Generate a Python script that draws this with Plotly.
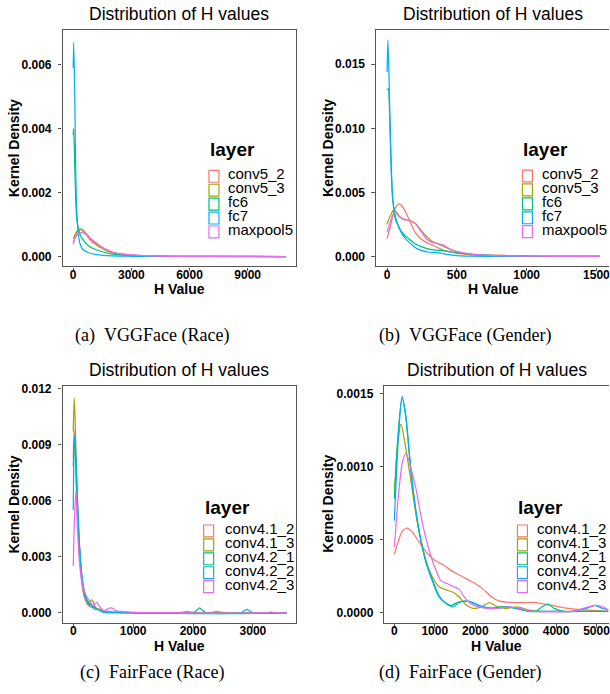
import plotly.graph_objects as go

W, H = 610, 694

# ---------------- data ----------------
layers_vgg = ["conv5_2", "conv5_3", "fc6", "fc7", "maxpool5"]
layers_fair = ["conv4.1_2", "conv4.1_3", "conv4.2_1", "conv4.2_2", "conv4.2_3"]
colors = ["#F8766D", "#A3A500", "#00BF7D", "#00B0F6", "#E76BF3"]

# (a) VGGFace (Race)
a_conv5_2_x = [0, 100, 200, 300, 400, 500, 700, 900, 1200, 1500, 1800, 2200, 2700, 3200, 4000, 5000, 7000, 10955]
a_conv5_2_y = [0.00038, 0.00060, 0.00076, 0.00083, 0.00084, 0.00080, 0.00066, 0.00050, 0.00036, 0.00025, 0.00016, 0.00010, 0.00008, 0.00004, 0.00002, 0.00001, 0.000005, 0.0]
a_conv5_3_x = [0, 100, 200, 300, 400, 500, 700, 900, 1200, 1500, 1800, 2200, 2700, 3200, 4000, 5000, 10955]
a_conv5_3_y = [0.00056, 0.00070, 0.00080, 0.00085, 0.00086, 0.00083, 0.00070, 0.00055, 0.00038, 0.00026, 0.00017, 0.00010, 0.00006, 0.00004, 0.00002, 0.00001, 0.0]
a_fc6_x = [0, 20, 60, 100, 150, 200, 300, 400, 600, 800, 1000, 1500, 2000, 3000, 4000, 10955]
a_fc6_y = [0.0038, 0.0040, 0.0033, 0.0024, 0.0015, 0.0011, 0.0008, 0.00062, 0.00045, 0.00033, 0.00026, 0.00015, 0.00008, 0.00003, 0.00001, 0.0]
a_fc7_x = [0, 25, 75, 120, 170, 250, 350, 500, 800, 1200, 2000, 3000, 10955]
a_fc7_y = [0.0059, 0.0067, 0.0052, 0.0030, 0.0016, 0.0008, 0.0004, 0.00022, 0.00012, 0.00006, 0.00002, 0.00001, 0.0]
a_maxpool5_x = [0, 100, 200, 300, 450, 600, 800, 1000, 1300, 1600, 2000, 2500, 3000, 4000, 5000, 10955]
a_maxpool5_y = [0.00044, 0.00058, 0.00068, 0.00073, 0.00075, 0.00072, 0.00063, 0.00052, 0.00038, 0.00026, 0.00015, 0.00008, 0.00005, 0.00002, 0.00001, 0.0]

# (b) VGGFace (Gender)
b_conv5_2_x = [0, 20, 40, 60, 85, 110, 140, 170, 200, 240, 280, 320, 360, 400, 450, 500, 600, 700, 800, 900, 1000, 1200, 1524]
b_conv5_2_y = [0.0014, 0.0022, 0.0031, 0.0038, 0.0041, 0.0039, 0.0033, 0.0026, 0.0019, 0.0014, 0.0011, 0.0009, 0.0007, 0.0005, 0.00035, 0.00025, 0.00015, 0.00012, 0.0001, 0.00006, 0.00003, 0.00001, 0.0]
b_conv5_3_x = [0, 20, 45, 65, 90, 120, 160, 200, 240, 280, 320, 360, 400, 450, 500, 600, 700, 800, 1000, 1200, 1524]
b_conv5_3_y = [0.0025, 0.0031, 0.0036, 0.0035, 0.0031, 0.0029, 0.0028, 0.0026, 0.0021, 0.0016, 0.0012, 0.0010, 0.0008, 0.00055, 0.00035, 0.00015, 0.00008, 0.00005, 0.00002, 0.00001, 0.0]
b_fc6_x = [0, 8, 20, 33, 45, 60, 80, 100, 130, 160, 200, 250, 300, 350, 400, 450, 500, 600, 700, 800, 1000, 1200, 1524]
b_fc6_y = [0.0130, 0.0131, 0.0105, 0.0060, 0.0040, 0.0029, 0.0024, 0.0020, 0.0016, 0.00135, 0.0010, 0.00075, 0.00058, 0.00050, 0.00045, 0.00038, 0.00030, 0.00020, 0.00010, 0.00005, 0.00002, 0.00001, 0.0]
b_fc7_x = [0, 6, 15, 28, 40, 60, 80, 110, 140, 170, 200, 250, 300, 350, 400, 450, 500, 600, 800, 1524]
b_fc7_y = [0.0144, 0.0169, 0.0135, 0.0073, 0.0045, 0.0031, 0.0024, 0.0017, 0.0013, 0.0010, 0.0007, 0.00045, 0.00033, 0.00030, 0.00022, 0.00012, 0.00007, 0.00003, 0.00001, 0.0]
b_maxpool5_x = [0, 20, 40, 60, 90, 120, 160, 200, 240, 280, 320, 350, 400, 450, 500, 600, 700, 800, 1000, 1200, 1524]
b_maxpool5_y = [0.0019, 0.0026, 0.0032, 0.0034, 0.0031, 0.0029, 0.0028, 0.0026, 0.0020, 0.0014, 0.0011, 0.00105, 0.0009, 0.0006, 0.0004, 0.00018, 0.0001, 0.00006, 0.00003, 0.00001, 0.0]

# (c) FairFace (Race)
c_conv4_1_2_x = [0, 12, 25, 50, 80, 110, 150, 200, 250, 300, 350, 400, 500, 700, 1000, 1500, 1800, 1900, 2000, 2300, 2400, 2500, 3000, 3567]
c_conv4_1_2_y = [0.0083, 0.0098, 0.0092, 0.0068, 0.0045, 0.0028, 0.0014, 0.0007, 0.0004, 0.0003, 0.0003, 0.0002, 0.0001, 0.00005, 0.00002, 0.00001, 0.00002, 0.00008, 0.00002, 0.00002, 0.00008, 0.00002, 0.00001, 0.0]
c_conv4_1_3_x = [0, 15, 30, 55, 85, 120, 160, 200, 240, 270, 300, 330, 370, 420, 460, 500, 600, 800, 1000, 3567]
c_conv4_1_3_y = [0.0097, 0.0115, 0.0105, 0.0075, 0.0048, 0.0028, 0.0015, 0.0008, 0.0005, 0.0004, 0.0007, 0.0006, 0.0003, 0.0002, 0.0002, 0.0001, 0.00004, 0.00002, 0.00001, 0.0]
c_conv4_2_1_x = [0, 15, 30, 55, 85, 120, 160, 200, 250, 300, 350, 400, 500, 700, 2000, 2060, 2110, 2160, 2220, 3567]
c_conv4_2_1_y = [0.0078, 0.0092, 0.0088, 0.0068, 0.0046, 0.0028, 0.0015, 0.0008, 0.0005, 0.0004, 0.0003, 0.0002, 0.00005, 0.00001, 0.00001, 0.00012, 0.00027, 0.00012, 0.00001, 0.0]
c_conv4_2_2_x = [0, 15, 28, 50, 80, 110, 150, 200, 250, 300, 350, 400, 450, 500, 700, 2800, 2850, 2900, 2950, 3000, 3567]
c_conv4_2_2_y = [0.0055, 0.0090, 0.0095, 0.0078, 0.0052, 0.0033, 0.0018, 0.0010, 0.0006, 0.0004, 0.0002, 0.0002, 0.0001, 0.00003, 0.00001, 0.00001, 0.0001, 0.00019, 0.0001, 0.00001, 0.0]
c_conv4_2_3_x = [0, 20, 45, 70, 110, 160, 220, 280, 330, 390, 450, 520, 600, 650, 720, 800, 1000, 1500, 3250, 3300, 3350, 3567]
c_conv4_2_3_y = [0.0025, 0.0050, 0.0065, 0.0045, 0.0025, 0.0014, 0.0009, 0.0006, 0.0004, 0.00055, 0.0003, 0.0001, 0.00025, 0.00025, 0.0001, 0.00008, 0.00003, 0.00001, 0.00001, 0.00005, 0.00001, 0.0]

# (d) FairFace (Gender)
d_conv4_1_2_x = [0, 100, 200, 320, 450, 600, 800, 1000, 1200, 1400, 1600, 1800, 2000, 2200, 2400, 2600, 3000, 3500, 3900, 4300, 4700, 5290]
d_conv4_1_2_y = [0.00040, 0.00049, 0.00056, 0.00058, 0.00055, 0.00049, 0.00041, 0.00036, 0.00033, 0.00029, 0.00026, 0.00023, 0.00020, 0.00016, 0.00011, 0.00008, 0.00007, 0.00007, 0.00005, 0.00003, 0.00002, 0.00001]
d_conv4_1_3_x = [0, 80, 165, 250, 400, 530, 660, 800, 950, 1100, 1250, 1450, 1600, 1750, 1950, 2150, 2350, 2550, 2750, 3050, 3300, 3600, 4200, 5290]
d_conv4_1_3_y = [0.00080, 0.00115, 0.00129, 0.00118, 0.00092, 0.00068, 0.00049, 0.00034, 0.00024, 0.00018, 0.00016, 0.00014, 0.00011, 0.00006, 0.00003, 0.00004, 0.00007, 0.00004, 0.00003, 0.00004, 0.00002, 0.00001, 0.00001, 0.00001]
d_conv4_2_1_x = [0, 100, 190, 280, 400, 530, 660, 800, 950, 1100, 1250, 1400, 1550, 1750, 1950, 2150, 2400, 2600, 2800, 3000, 3300, 3500, 3650, 3800, 3950, 4200, 4600, 5290]
d_conv4_2_1_y = [0.00078, 0.00125, 0.00147, 0.00135, 0.00100, 0.00070, 0.00049, 0.00033, 0.00022, 0.00012, 0.00007, 0.00005, 0.00007, 0.00008, 0.00007, 0.00004, 0.00003, 0.00004, 0.00004, 0.00003, 0.00001, 0.00001, 0.00004, 0.00006, 0.00003, 0.00001, 0.00001, 0.00001]
d_conv4_2_2_x = [0, 100, 190, 280, 400, 530, 660, 800, 950, 1100, 1250, 1450, 1600, 1800, 2000, 2200, 2500, 2800, 3000, 3400, 3800, 4400, 4750, 4950, 5150, 5290]
d_conv4_2_2_y = [0.00063, 0.00120, 0.00148, 0.00135, 0.00100, 0.00070, 0.00049, 0.00033, 0.00021, 0.00011, 0.00007, 0.00004, 0.00007, 0.00008, 0.00006, 0.00004, 0.00003, 0.00004, 0.00003, 0.00001, 0.00001, 0.00001, 0.00003, 0.00005, 0.00003, 0.00002]
d_conv4_2_3_x = [0, 100, 200, 290, 400, 535, 660, 780, 900, 1030, 1150, 1300, 1450, 1600, 1750, 1900, 2100, 2300, 2500, 2800, 3100, 3400, 4400, 4800, 5000, 5150, 5290]
d_conv4_2_3_y = [0.00045, 0.00080, 0.00103, 0.00109, 0.00100, 0.00085, 0.00066, 0.00051, 0.00039, 0.00029, 0.00022, 0.00020, 0.00018, 0.00016, 0.00010, 0.00006, 0.00004, 0.00003, 0.00003, 0.00004, 0.00003, 0.00001, 0.00001, 0.00004, 0.00005, 0.00004, 0.00002]

a_xticks = [0, 3000, 6000, 9000]
a_yticks = [0.000, 0.002, 0.004, 0.006]
b_xticks = [0, 500, 1000, 1500]
b_yticks = [0.000, 0.005, 0.010, 0.015]
c_xticks = [0, 1000, 2000, 3000]
c_yticks = [0.000, 0.003, 0.006, 0.009, 0.012]
d_xticks = [0, 1000, 2000, 3000, 4000, 5000]
d_yticks = [0.0000, 0.0005, 0.0010, 0.0015]

title_text = "Distribution of H values"
xtitle = "H Value"
ytitle = "Kernel Density"
legend_title = "layer"
captions = ["(a)\u00a0\u00a0VGGFace (Race)", "(b)\u00a0\u00a0VGGFace (Gender)",
            "(c)\u00a0\u00a0FairFace (Race)", "(d)\u00a0\u00a0FairFace (Gender)"]

panel_series = [
    [(a_conv5_2_x, a_conv5_2_y), (a_conv5_3_x, a_conv5_3_y), (a_fc6_x, a_fc6_y), (a_fc7_x, a_fc7_y), (a_maxpool5_x, a_maxpool5_y)],
    [(b_conv5_2_x, b_conv5_2_y), (b_conv5_3_x, b_conv5_3_y), (b_fc6_x, b_fc6_y), (b_fc7_x, b_fc7_y), (b_maxpool5_x, b_maxpool5_y)],
    [(c_conv4_1_2_x, c_conv4_1_2_y), (c_conv4_1_3_x, c_conv4_1_3_y), (c_conv4_2_1_x, c_conv4_2_1_y), (c_conv4_2_2_x, c_conv4_2_2_y), (c_conv4_2_3_x, c_conv4_2_3_y)],
    [(d_conv4_1_2_x, d_conv4_1_2_y), (d_conv4_1_3_x, d_conv4_1_3_y), (d_conv4_2_1_x, d_conv4_2_1_y), (d_conv4_2_2_x, d_conv4_2_2_y), (d_conv4_2_3_x, d_conv4_2_3_y)],
]
panel_layers = [layers_vgg, layers_vgg, layers_fair, layers_fair]

# ---------------- layout geometry (pixels) ----------------
def fx(px):
    return px / W

def fy(py):
    return 1 - py / H

panels = [
    dict(x0=62.7, x1=296.7, y0=26, y1=264, xr=[-548, 11503], yr=[-0.00031, 0.00709],
         xt=a_xticks, yt=a_yticks, yfmt=".3f", right=True,
         tcx=179.7, tcy=10.5, xtx=179.7, xty=287, ytx=14, yty=145,
         lg_x=209.3, lg_ty=146.5, lg_y0=173.3, lg_tx=227.7, cap_x=152.7, cap_y=333.5),
    dict(x0=376.7, x1=610, y0=26, y1=264, xr=[-78.7, 1590], yr=[-0.00078, 0.01768],
         xt=b_xticks, yt=b_yticks, yfmt=".3f", right=False,
         tcx=494, tcy=10.5, xtx=494, xty=287, ytx=328.3, yty=145,
         lg_x=523.3, lg_ty=146.5, lg_y0=173.0, lg_tx=541.7, cap_x=466, cap_y=333.5),
    dict(x0=62.7, x1=296, y0=384, y1=622.7, xr=[-178, 3712], yr=[-0.00055, 0.01214],
         xt=c_xticks, yt=c_yticks, yfmt=".3f", right=True,
         tcx=179.5, tcy=368.5, xtx=179.5, xty=645.5, ytx=14.5, yty=503,
         lg_x=204, lg_ty=506, lg_y0=530, lg_tx=224, cap_x=152.7, cap_y=672.5),
    dict(x0=385, x1=610, y0=384, y1=622.7, xr=[-247, 5309], yr=[-0.0000707, 0.001553],
         xt=d_xticks, yt=d_yticks, yfmt=".4f", right=False,
         tcx=497.5, tcy=368.5, xtx=497.5, xty=645.5, ytx=328.3, yty=503,
         lg_x=518.3, lg_ty=506, lg_y0=530, lg_tx=537.3, cap_x=461, cap_y=672.5),
]

BORDER = "#555555"
SANS = "Liberation Sans, Arial, sans-serif"
SERIF = "Liberation Serif, Times New Roman, serif"

fig = go.Figure()
layout = dict(width=W, height=H, margin=dict(l=0, r=0, t=0, b=0),
              paper_bgcolor="white", plot_bgcolor="white", showlegend=False)
annotations = []
shapes = []

for i, p in enumerate(panels):
    n = "" if i == 0 else str(i + 1)
    xa, ya = "x" + n, "y" + n
    for (xs, ys), name, col in zip(panel_series[i], panel_layers[i], colors):
        fig.add_trace(go.Scatter(x=xs, y=ys, mode="lines", name=name, xaxis=xa, yaxis=ya,
                                 line=dict(color=col, width=1.25, shape="spline", smoothing=0.7),
                                 showlegend=False))
    common = dict(showgrid=False, zeroline=False, showline=True, linecolor=BORDER, linewidth=1.3,
                  ticks="outside", ticklen=3.5, tickcolor=BORDER, tickwidth=1.1,
                  ticklabeloverflow="allow",
                  tickfont=dict(family=SANS, size=12, color="black", weight="bold"))
    layout["xaxis" + n] = dict(common, domain=[fx(p["x0"]), fx(p["x1"])], range=p["xr"],
                               anchor=ya, tickvals=p["xt"], mirror=True, ticklabelstandoff=-7)
    layout["yaxis" + n] = dict(common, domain=[fy(p["y1"]), fy(p["y0"])], range=p["yr"],
                               anchor=xa, tickvals=p["yt"], tickformat=p["yfmt"],
                               mirror=p["right"], ticklabelstandoff=4)
    # titles
    annotations.append(dict(text=title_text, x=fx(p["tcx"]), y=fy(p["tcy"]), xref="paper", yref="paper",
                            xanchor="center", yanchor="middle", showarrow=False,
                            font=dict(family=SANS, size=17.5, color="black")))
    annotations.append(dict(text=xtitle, x=fx(p["xtx"]), y=fy(p["xty"]), xref="paper", yref="paper",
                            xanchor="center", yanchor="middle", showarrow=False,
                            font=dict(family=SANS, size=14, color="black", weight="bold")))
    annotations.append(dict(text=ytitle, x=fx(p["ytx"]), y=fy(p["yty"]), xref="paper", yref="paper",
                            xanchor="center", yanchor="middle", showarrow=False, textangle=-90,
                            font=dict(family=SANS, size=14, color="black", weight="bold")))
    annotations.append(dict(text=captions[i], x=fx(p["cap_x"]), y=fy(p["cap_y"]), xref="paper", yref="paper",
                            xanchor="center", yanchor="middle", showarrow=False,
                            font=dict(family=SERIF, size=18, color="black")))
    # legend
    annotations.append(dict(text=legend_title, x=fx(p["lg_x"] - 1), y=fy(p["lg_ty"]), xref="paper", yref="paper",
                            xanchor="left", yanchor="middle", showarrow=False,
                            font=dict(family=SANS, size=19, color="black", weight="bold")))
    for k, (name, col) in enumerate(zip(panel_layers[i], colors)):
        cy = p["lg_y0"] + 14 * k
        shapes.append(dict(type="rect", xref="paper", yref="paper",
                           x0=fx(p["lg_x"]), x1=fx(p["lg_x"] + 10), y0=fy(cy - 6), y1=fy(cy + 6),
                           line=dict(color=col, width=1.2), fillcolor="rgba(0,0,0,0)"))
        annotations.append(dict(text=name, x=fx(p["lg_tx"] - 1), y=fy(cy - 2.5), xref="paper", yref="paper",
                                xanchor="left", yanchor="middle", showarrow=False,
                                font=dict(family=SANS, size=15, color="black")))

layout["annotations"] = annotations
layout["shapes"] = shapes
fig.update_layout(**layout)
fig.write_html("out.html", config={"displayModeBar": False},
               post_script="document.body.style.margin='0';document.body.style.padding='0';"
                           "document.body.style.overflow='hidden';")
